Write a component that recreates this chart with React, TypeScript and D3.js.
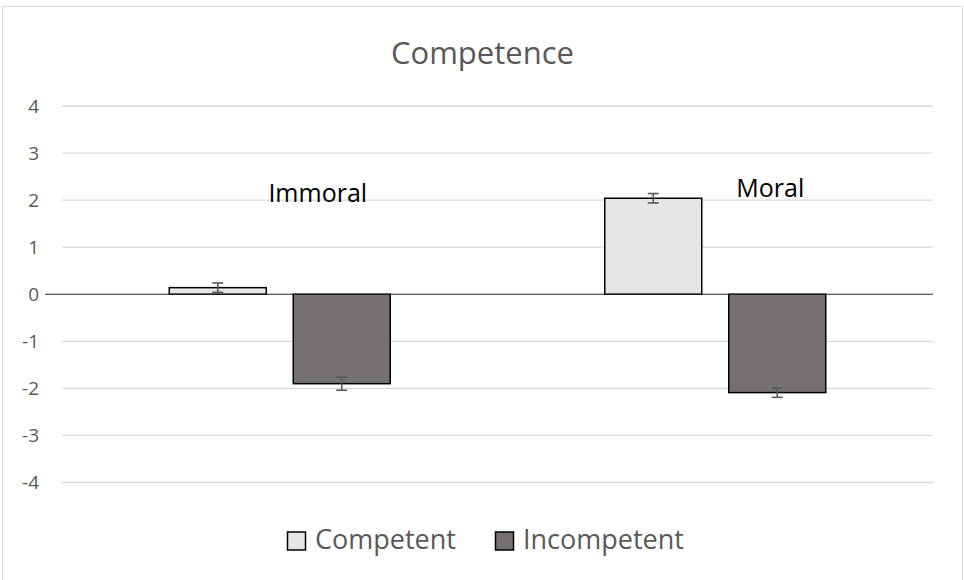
import React from "react";
import * as d3 from "d3";

const categories = ["Immoral", "Moral"];
const seriesNames = ["Competent", "Incompetent"];
const competentValues = [0.14, 2.04];
const competentErrors = [0.1, 0.1];
const incompetentValues = [-1.9, -2.09];
const incompetentErrors = [0.14, 0.1];
const yTicks = [-4, -3, -2, -1, 0, 1, 2, 3, 4];
const seriesColors = ["#e6e6e6", "#767171"];

const W = 964;
const H = 580;
const FONT = "'Open Sans', 'DejaVu Sans', sans-serif";

export default function App() {
  const y = d3.scaleLinear().domain([-4, 4]).range([482.5, 106]);
  const x = d3.scaleBand<string>().domain(categories).range([62, 933]).paddingInner(0).paddingOuter(0);
  const cw = x.bandwidth();
  const inner = d3
    .scaleBand<string>()
    .domain(seriesNames)
    .range([cw * 0.2463, cw * 0.7537])
    .paddingInner(0.2177)
    .paddingOuter(0);

  const series = [
    { name: seriesNames[0], values: competentValues, errors: competentErrors, color: seriesColors[0] },
    { name: seriesNames[1], values: incompetentValues, errors: incompetentErrors, color: seriesColors[1] },
  ];

  const labelOffsets = [
    { dx: 38, baseline: 202 },
    { dx: 55, baseline: 197 },
  ];

  return (
    <svg width={W} height={H} style={{ position: "absolute", left: 0, top: 0 }}>
      <rect x={0} y={0} width={W} height={H} fill="#fff" />
      <rect x={2.5} y={6.5} width={960} height={H} fill="#fff" stroke="#d9d9d9" strokeWidth={1} />
      <text x={482.5} y={64} textAnchor="middle" fontFamily={FONT} fontSize={31} fill="#595959">
        Competence
      </text>
      {yTicks.map((t) => (
        <g key={t}>
          {t !== 0 && <line x1={62} x2={933} y1={y(t)} y2={y(t)} stroke="#d9d9d9" strokeWidth={1.3} />}
          <text x={39} y={y(t)} dy="0.36em" textAnchor="end" fontFamily={FONT} fontSize={19} fill="#595959">
            {t}
          </text>
        </g>
      ))}
      {series.map((s) =>
        categories.map((c, i) => {
          const v = s.values[i];
          const bx = (x(c) as number) + (inner(s.name) as number);
          const bw = inner.bandwidth();
          const y0 = y(0);
          const yv = y(v);
          const cx = bx + bw / 2;
          return (
            <g key={s.name + c}>
              <rect
                x={bx}
                y={Math.min(y0, yv)}
                width={bw}
                height={Math.abs(yv - y0)}
                fill={s.color}
                stroke="#000"
                strokeWidth={1.5}
              />
              <g stroke="#595959" strokeWidth={1.6}>
                <line x1={cx} x2={cx} y1={y(v - s.errors[i])} y2={y(v + s.errors[i])} />
                <line x1={cx - 5.5} x2={cx + 5.5} y1={y(v - s.errors[i])} y2={y(v - s.errors[i])} />
                <line x1={cx - 5.5} x2={cx + 5.5} y1={y(v + s.errors[i])} y2={y(v + s.errors[i])} />
              </g>
            </g>
          );
        })
      )}
      <line x1={45} x2={933} y1={y(0)} y2={y(0)} stroke="#262626" strokeWidth={1.2} />
      {categories.map((c, i) => (
        <text
          key={c}
          x={(x(c) as number) + cw / 2 + labelOffsets[i].dx}
          y={labelOffsets[i].baseline}
          textAnchor="middle"
          fontFamily={FONT}
          fontSize={25}
          fill="#000"
        >
          {c}
        </text>
      ))}
      {series.map((s, i) => {
        const lx = [287.5, 495.5][i];
        return (
          <g key={s.name}>
            <rect x={lx} y={532} width={18} height={18} fill={s.color} stroke="#000" strokeWidth={1.5} />
            <text x={lx + 27.5} y={548.5} fontFamily={FONT} fontSize={27} fill="#595959">
              {s.name}
            </text>
          </g>
        );
      })}
    </svg>
  );
}
